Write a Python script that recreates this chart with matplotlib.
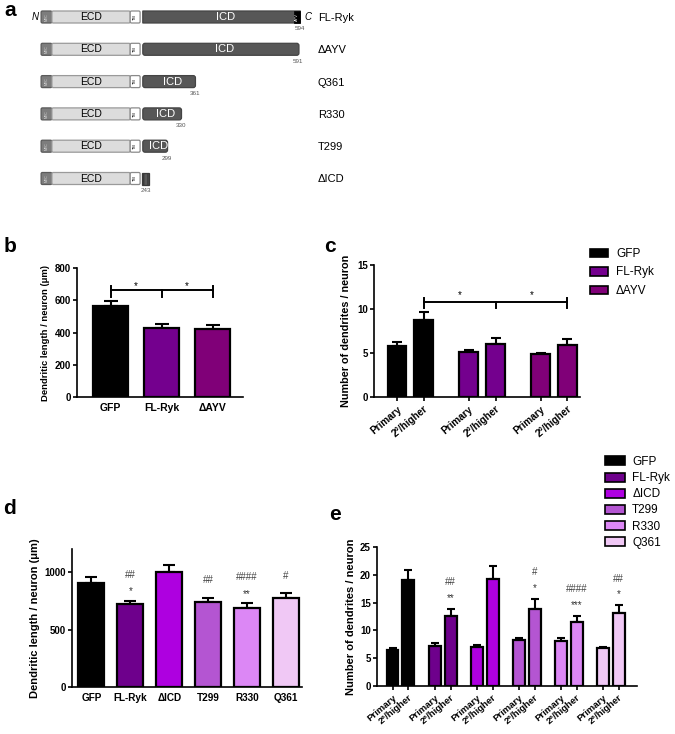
import numpy as np
import matplotlib
matplotlib.use("Agg")
import matplotlib.pyplot as plt
from matplotlib.patches import FancyBboxPatch, Rectangle, Patch

plt.rcParams['font.family'] = ['Liberation Sans', 'DejaVu Sans']
plt.rcParams['axes.linewidth'] = 1.2
plt.rcParams['xtick.major.width'] = 1.2
plt.rcParams['ytick.major.width'] = 1.2
plt.rcParams['xtick.major.size'] = 3
plt.rcParams['ytick.major.size'] = 3
plt.rcParams['hatch.color'] = '#999999'

# ---- panel a: constructs (residue numbers) ----
construct_names = ["FL-Ryk", "ΔAYV", "Q361", "R330", "T299", "ΔICD"]
construct_ends = [594, 591, 361, 330, 299, 243]
myc_span = (18, 42)
ecd_span = (42, 216)
tm_span = (216, 238)
icd_start = 244

# ---- panel b ----
b_groups = ["GFP", "FL-Ryk", "ΔAYV"]
b_mean = [565, 427, 421]
b_err = [30, 26, 27]

# ---- panel c ----
c_groups = ["GFP", "FL-Ryk", "ΔAYV"]
c_primary = [5.8, 5.15, 4.85]
c_primary_err = [0.5, 0.15, 0.15]
c_higher = [8.7, 6.0, 5.95]
c_higher_err = [1.0, 0.65, 0.6]

# ---- panel d ----
d_groups = ["GFP", "FL-Ryk", "ΔICD", "T299", "R330", "Q361"]
d_mean = [907, 719, 1003, 736, 690, 777]
d_err = [47, 29, 55, 41, 37, 37]
d_hash = ["", "##", "", "##", "####", "#"]
d_star = ["", "*", "", "", "**", ""]

# ---- panel e ----
e_groups = ["GFP", "FL-Ryk", "ΔICD", "T299", "R330", "Q361"]
e_primary = [6.5, 7.25, 7.05, 8.25, 8.1, 6.9]
e_primary_err = [0.25, 0.4, 0.3, 0.3, 0.45, 0.15]
e_higher = [19.0, 12.6, 19.3, 13.9, 11.5, 13.2]
e_higher_err = [1.8, 1.3, 2.2, 1.8, 1.1, 1.3]
e_hash = ["", "##", "", "#", "####", "##"]
e_star = ["", "**", "", "*", "***", "*"]

col3 = ["#000000", "#74008e", "#800078"]
col6 = ["#000000", "#6e008c", "#ae00e0", "#b455d2", "#dc87f5", "#f0c8f5"]

W, H = 675, 734
fig = plt.figure(figsize=(W / 100, H / 100), dpi=100)


def fax(x0, y0, x1, y1):
    # axes from pixel box (top-left origin)
    return fig.add_axes([x0 / W, 1 - y1 / H, (x1 - x0) / W, (y1 - y0) / H])


def style(ax, ysize=7):
    ax.spines['top'].set_visible(False)
    ax.spines['right'].set_visible(False)
    ax.tick_params(axis='y', labelsize=ysize, pad=1.5)
    for t in ax.get_yticklabels():
        t.set_fontweight('bold')


def bars(ax, x, h, err, colors, width, capsize):
    ax.bar(x, h, width=width, color=colors, edgecolor='black', linewidth=1.6, zorder=2)
    ax.errorbar(x, h, yerr=[np.zeros(len(h)), err], fmt='none', ecolor='black',
                elinewidth=1.5, capsize=capsize, capthick=1.5, zorder=1)


# ================= panel a =================
axa = fax(0, 0, W, 200)
px_per_res = 0.45
axa.set_xlim(-33 / px_per_res, (W - 33) / px_per_res)
axa.set_ylim(200, 0)
axa.axis('off')
row_y = 17 + 32.3 * np.arange(len(construct_names))
bh = 12


def box(ax, x0, x1, y, fc, ec, rnd=0.0):
    p = FancyBboxPatch((x0, y - bh / 2), x1 - x0, bh,
                       boxstyle="round,pad=0,rounding_size=%g" % max(rnd, 0.01),
                       mutation_aspect=px_per_res, fc=fc, ec=ec, lw=0.9)
    ax.add_patch(p)


for i, (name, end) in enumerate(zip(construct_names, construct_ends)):
    y = row_y[i]
    box(axa, *myc_span, y, '#7d7d7d', '#5a5a5a', 3)
    axa.text(np.mean(myc_span), y, "MYC", rotation=90, fontsize=2.5, color='#dddddd',
             ha='center', va='center')
    box(axa, *ecd_span, y, '#dcdcdc', '#9a9a9a', 3)
    axa.text(np.mean(ecd_span), y, "ECD", fontsize=7.5, ha='center', va='center')
    box(axa, *tm_span, y, 'white', '#8a8a8a', 3)
    axa.text(np.mean(tm_span), y, "TM", rotation=90, fontsize=2.8, ha='center', va='center')
    if name == "ΔICD":
        axa.add_patch(Rectangle((icd_start - 2, y - bh / 2), end + 16 - icd_start, bh,
                                fc='#5a5a5a', ec='#3a3a3a', lw=0.9, hatch='||||'))
        axa.text(icd_start + 6, y + 12, str(end), fontsize=4.5, color='#555555',
                 ha='center', va='center')
    else:
        box(axa, icd_start, end, y, '#575757', '#444444', 5 if name != "FL-Ryk" else 0.5)
        axa.text((icd_start + end) / 2 + 8, y, "ICD", fontsize=8, color='white',
                 ha='center', va='center')
        axa.text(end - 2, y + 12, str(end), fontsize=4.5, color='#555555',
                 ha='center', va='center')
    if name == "FL-Ryk":
        axa.add_patch(Rectangle((end - 15, y - bh / 2), 15, bh, fc='black', ec='black', lw=0.5))
        axa.text(end - 7.5, y, "AYV", rotation=90, fontsize=3, color='white',
                 ha='center', va='center')
        axa.text(myc_span[0] - 14, y, "N", fontsize=7, style='italic', ha='center', va='center')
        axa.text(end + 18, y, "C", fontsize=7, style='italic', ha='center', va='center')
    axa.text(633, y + 1, name, fontsize=8, ha='left', va='center')

# panel letters
for lab, (lx, ly) in {"a": (10, 10), "b": (10, 247), "c": (330, 247),
                      "d": (10, 509), "e": (335, 514)}.items():
    fig.text(lx / W, 1 - ly / H, lab, fontsize=15, fontweight='bold', ha='center', va='center')

# ================= panel b =================
axb = fax(77, 268, 243, 397)
xb = np.arange(len(b_groups))
bars(axb, xb, b_mean, b_err, col3, 0.686, 5)
axb.set_xlim(-0.657, 2.598)
axb.set_ylim(0, 800)
axb.set_yticks([0, 200, 400, 600, 800])
axb.set_xticks(xb)
axb.set_xticklabels(b_groups, fontsize=7.5, fontweight='bold')
axb.tick_params(axis='x', length=0, pad=4)
axb.set_ylabel("Dendritic length / neuron (μm)", fontsize=6.8, fontweight='bold', labelpad=3)
style(axb)
axb.plot([0, 2], [663, 663], color='black', lw=1.4, clip_on=False)
axb.plot([0, 0], [620, 690], color='black', lw=1.4, clip_on=False)
axb.plot([2, 2], [620, 690], color='black', lw=1.4, clip_on=False)
axb.plot([1, 1], [620, 663], color='black', lw=1.4, clip_on=False)
for sx in [0.5, 1.5]:
    axb.text(sx, 690, "*", fontsize=7, ha='center', va='center')

# ================= panel c =================
axc = fax(374, 265, 580, 397)
gap_c = 2.7
pos_p = np.arange(3) * gap_c
pos_h = pos_p + 1
for g in range(3):
    bars(axc, [pos_p[g], pos_h[g]], [c_primary[g], c_higher[g]],
         [c_primary_err[g], c_higher_err[g]], [col3[g]] * 2, 0.71, 3.5)
axc.set_xlim(-0.863, 6.87)
axc.set_ylim(0, 15)
axc.set_yticks([0, 5, 10, 15])
ticks_c = np.ravel(np.column_stack([pos_p, pos_h]))
axc.set_xticks(ticks_c)
axc.set_xticklabels(["Primary", "2°/higher"] * 3, rotation=40, ha='right',
                    rotation_mode='anchor', fontsize=7.2, fontweight='bold')
axc.tick_params(axis='x', length=3, pad=2)
axc.set_ylabel("Number of dendrites / neuron", fontsize=7.8, fontweight='bold', labelpad=4)
style(axc)
axc.plot([pos_h[0], pos_h[2]], [10.8, 10.8], color='black', lw=1.4)
axc.plot([pos_h[0]] * 2, [10.1, 11.3], color='black', lw=1.4)
axc.plot([pos_h[2]] * 2, [10.1, 11.3], color='black', lw=1.4)
axc.plot([pos_h[1]] * 2, [10.1, 10.8], color='black', lw=1.4)
for sx in [(pos_h[0] + pos_h[1]) / 2, (pos_h[1] + pos_h[2]) / 2]:
    axc.text(sx, 11.6, "*", fontsize=7, ha='center', va='center')
handles_c = [Patch(fc=c, ec='black', lw=1.2, label=n) for c, n in zip(col3, c_groups)]
fig.legend(handles=handles_c, loc='upper left', bbox_to_anchor=(590 / W, 1 - 248 / H),
           frameon=False, fontsize=8.5, handlelength=1.5, handleheight=0.75,
           labelspacing=0.55, handletextpad=0.7, borderpad=0, borderaxespad=0)

# ================= panel d =================
axd = fax(72, 549, 302, 687)
xd = np.arange(len(d_groups))
bars(axd, xd, d_mean, d_err, col6, 0.67, 4.5)
axd.set_xlim(-0.5, 5.41)
axd.set_ylim(0, 1200)
axd.set_yticks([0, 500, 1000])
axd.set_xticks(xd)
axd.set_xticklabels(d_groups, fontsize=7.2, fontweight='bold')
axd.tick_params(axis='x', length=0, pad=4)
axd.set_ylabel("Dendritic length / neuron (μm)", fontsize=8, fontweight='bold', labelpad=3)
style(axd)
for i in range(len(d_groups)):
    top = d_mean[i] + d_err[i]
    if d_star[i]:
        axd.text(i, top + 85, d_star[i], fontsize=7, color='#333333', ha='center', va='center')
    if d_hash[i]:
        off = 230 if d_star[i] else 150
        axd.text(i, top + off, d_hash[i], fontsize=7, color='#444444', ha='center', va='center')

# ================= panel e =================
axe = fax(377, 547, 637, 686)
gap_e = 2.63
pe_p = np.arange(6) * gap_e
pe_h = pe_p + 1
for g in range(6):
    bars(axe, [pe_p[g], pe_h[g]], [e_primary[g], e_higher[g]],
         [e_primary_err[g], e_higher_err[g]], [col6[g]] * 2, 0.75, 3)
axe.set_xlim(-0.97, 15.3)
axe.set_ylim(0, 25)
axe.set_yticks([0, 5, 10, 15, 20, 25])
ticks_e = np.ravel(np.column_stack([pe_p, pe_h]))
axe.set_xticks(ticks_e)
axe.set_xticklabels(["Primary", "2°/higher"] * 6, rotation=40, ha='right',
                    rotation_mode='anchor', fontsize=6.8, fontweight='bold')
axe.tick_params(axis='x', length=3, pad=2)
axe.set_ylabel("Number of dendrites / neuron", fontsize=8, fontweight='bold', labelpad=3)
style(axe)
for g in range(6):
    top = e_higher[g] + e_higher_err[g]
    if e_star[g]:
        axe.text(pe_h[g], top + 2.0, e_star[g], fontsize=7, color='#333333', ha='center', va='center')
    if e_hash[g]:
        axe.text(pe_h[g], top + 4.8, e_hash[g], fontsize=7, color='#444444', ha='center', va='center')
handles_e = [Patch(fc=c, ec='black', lw=1.2, label=n) for c, n in zip(col6, e_groups)]
fig.legend(handles=handles_e, loc='upper left', bbox_to_anchor=(605 / W, 1 - 456 / H),
           frameon=False, fontsize=8.5, handlelength=1.7, handleheight=0.8,
           labelspacing=0.35, handletextpad=0.6, borderpad=0, borderaxespad=0)

fig.savefig("out.png", dpi=100)
